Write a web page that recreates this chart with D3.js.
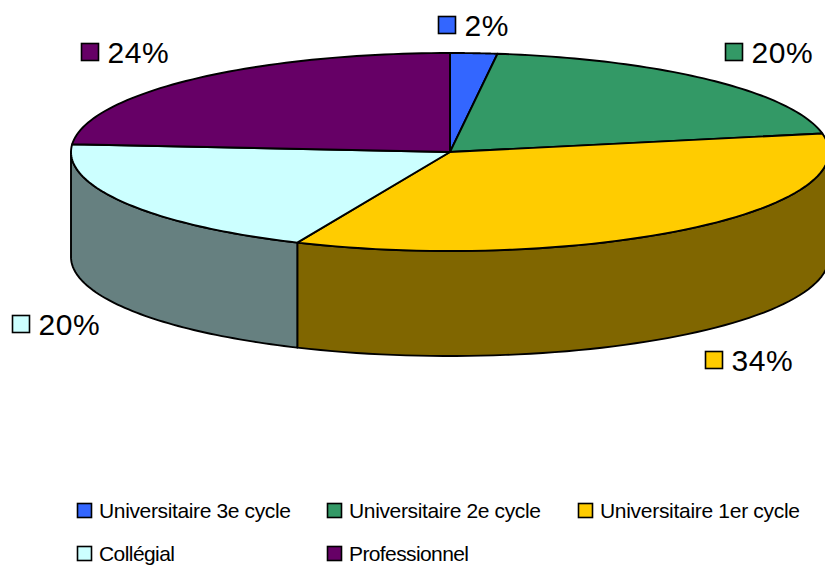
<!DOCTYPE html>
<html><head><meta charset="utf-8">
<script src="https://cdn.jsdelivr.net/npm/d3@7"></script>
<style>html,body{margin:0;padding:0;background:#fff;overflow:hidden}svg{display:block;font-family:"Liberation Sans",Arial,sans-serif}</style>
</head><body><svg id="c" width="825" height="566"></svg>
<script>
const categories=["Universitaire 3e cycle","Universitaire 2e cycle","Universitaire 1er cycle","Collégial","Professionnel"];
const values=[2,20,34.6,19.65,23.75];
const valueLabels=["2%","20%","34%","20%","24%"];
const topColors=["#3366FF","#339966","#FFCC00","#CCFFFF","#660066"];
const sideColors=["#1A3380","#1A4D33","#806600","#668080","#330033"];

const svg=d3.select("#c");
const cx=450,cy=152,rx=379,ry=99,depth=105;
const sx=d3.scaleLinear().domain([-1,1]).range([cx-rx,cx+rx]);
const sy=d3.scaleLinear().domain([-1,1]).range([cy+ry,cy-ry]);
const pie=d3.pie().sort(null).value(d=>d);
const arcs=pie(values);
const px=a=>sx(Math.sin(a)), py=a=>sy(Math.cos(a));
const samples=(a0,a1)=>d3.range(0,61).map(i=>a0+(a1-a0)*i/60);
const line=d3.line().x(d=>d[0]).y(d=>d[1]);
const sw=1.9;

// visible side walls
arcs.forEach((d,i)=>{
  const a0=Math.max(d.startAngle,Math.PI/2),a1=Math.min(d.endAngle,3*Math.PI/2);
  if(a1<=a0)return;
  const top=samples(a0,a1).map(a=>[px(a),py(a)]);
  const bot=samples(a1,a0).map(a=>[px(a),py(a)+depth]);
  svg.append("path").attr("d",line(top.concat(bot))+"Z")
    .attr("fill",sideColors[i]).attr("stroke","#000").attr("stroke-width",sw).attr("stroke-linejoin","round");
});
// top slices
arcs.forEach((d,i)=>{
  const rim=samples(d.startAngle,d.endAngle).map(a=>[px(a),py(a)]);
  svg.append("path").attr("d",line([[cx,cy]].concat(rim))+"Z")
    .attr("fill",topColors[i]).attr("stroke","#000").attr("stroke-width",sw).attr("stroke-linejoin","round");
});

// data labels
const labelBoxX=[438,725,705,12,81], labelBoxY=[16,43,351,315,43];
valueLabels.forEach((t,i)=>{
  svg.append("rect").attr("x",labelBoxX[i]+.5).attr("y",labelBoxY[i]+.5).attr("width",17).attr("height",17)
    .attr("fill",topColors[i]).attr("stroke","#000").attr("stroke-width",1.6);
  svg.append("text").attr("x",labelBoxX[i]+26.5).attr("y",labelBoxY[i]+20).attr("font-size",30)
    .attr("letter-spacing",0.6).attr("fill","#000").text(t);
});

// legend
const legX=[77,327,578,77,327], legY=[503,503,503,546,546], legW=[192,192,200,76,120];
categories.forEach((t,i)=>{
  svg.append("rect").attr("x",legX[i]+.5).attr("y",legY[i]+.5).attr("width",14).attr("height",14)
    .attr("fill",topColors[i]).attr("stroke","#000").attr("stroke-width",1.6);
  svg.append("text").attr("x",legX[i]+22).attr("y",legY[i]+15).attr("font-size",21)
    .attr("textLength",legW[i]).attr("lengthAdjust","spacing").attr("fill","#000").text(t);
});
</script></body></html>
